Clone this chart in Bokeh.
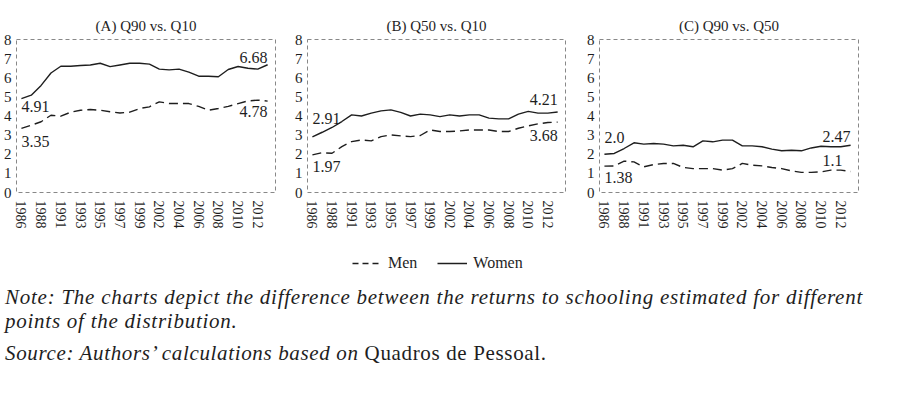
from bokeh.plotting import figure
from bokeh.models import FixedTicker, Label, Legend, LegendItem, Div
from bokeh.layouts import row, column
from bokeh.embed import file_html
from bokeh.resources import INLINE

years = [1986, 1987, 1988, 1989, 1991, 1992, 1993, 1994, 1995, 1996, 1997, 1998, 1999,
         2000, 2002, 2003, 2004, 2005, 2006, 2007, 2008, 2009, 2010, 2011, 2012, 2013]
tick_years = [1986, 1988, 1991, 1993, 1995, 1997, 1999, 2002, 2004, 2006, 2008, 2010, 2012]
y_ticks = [0, 1, 2, 3, 4, 5, 6, 7, 8]

titles = ["(A) Q90 vs. Q10", "(B) Q50 vs. Q10", "(C) Q90 vs. Q50"]

a_women = [4.91, 5.09, 5.6, 6.25, 6.6, 6.6, 6.64, 6.67, 6.76, 6.58, 6.67, 6.76, 6.76,
           6.71, 6.45, 6.41, 6.45, 6.29, 6.08, 6.08, 6.05, 6.43, 6.59, 6.5, 6.45, 6.68]
a_men = [3.35, 3.52, 3.7, 4.04, 3.99, 4.2, 4.3, 4.34, 4.3, 4.22, 4.16, 4.2, 4.39,
         4.48, 4.74, 4.65, 4.65, 4.65, 4.5, 4.3, 4.39, 4.5, 4.65, 4.79, 4.83, 4.78]
b_women = [2.91, 3.15, 3.4, 3.71, 4.06, 4.0, 4.15, 4.27, 4.32, 4.19, 4.0, 4.1, 4.06,
           3.97, 4.06, 4.0, 4.06, 4.06, 3.89, 3.85, 3.85, 4.1, 4.24, 4.15, 4.15, 4.21]
b_men = [1.97, 2.08, 2.05, 2.4, 2.66, 2.75, 2.7, 2.92, 3.01, 2.96, 2.92, 2.98, 3.27,
         3.19, 3.19, 3.22, 3.27, 3.27, 3.27, 3.19, 3.19, 3.36, 3.48, 3.59, 3.66, 3.68]
c_women = [2.0, 2.04, 2.3, 2.6, 2.53, 2.56, 2.53, 2.44, 2.47, 2.39, 2.7, 2.65, 2.74,
           2.74, 2.44, 2.44, 2.39, 2.27, 2.18, 2.21, 2.18, 2.33, 2.42, 2.39, 2.39, 2.47]
c_men = [1.38, 1.39, 1.64, 1.6, 1.34, 1.46, 1.52, 1.52, 1.31, 1.25, 1.25, 1.25, 1.17,
         1.25, 1.52, 1.43, 1.39, 1.31, 1.25, 1.13, 1.05, 1.05, 1.08, 1.17, 1.17, 1.1]

# end-point labels: women first, men first, women last, men last
a_labels = ["4.91", "3.35", "6.68", "4.78"]
b_labels = ["2.91", "1.97", "4.21", "3.68"]
c_labels = ["2.0", "1.38", "2.47", "1.1"]

series = [(a_women, a_men, a_labels), (b_women, b_men, b_labels), (c_women, c_men, c_labels)]
# (y_offset, x_offset) per label, in screen pixels
label_offsets = [
    [(-8, 0), (-13, 0), (7, 0), (-10, 0)],
    [(18, 0), (-12, 0), (12, 0), (-13, 0)],
    [(17, 0), (-11, 0), (9, 0), (11, -8)],
]

FONT = "Liberation Serif"
INK = "#1e1e1e"
MEN_DASH = "9 5"
xs = list(range(len(years)))
tick_pos = [years.index(y) for y in tick_years]

borders = [(15, 16), (15, 18), (15, 10)]
frame_w = [259, 258, 259]
figs = []
for i in range(3):
    women, men, labels = series[i]
    p = figure(frame_width=frame_w[i], frame_height=153, x_range=(-0.5, 25.8), y_range=(0, 8),
               output_backend="svg", toolbar_location=None,
               min_border_left=borders[i][0], min_border_right=borders[i][1],
               min_border_top=39, min_border_bottom=48)
    p.title.text = titles[i]
    p.title.align = "center"
    p.title.text_font = FONT
    p.title.text_font_size = "15px"
    p.title.text_font_style = "normal"
    p.title.text_color = INK
    p.title.standoff = 11
    p.xgrid.visible = False
    p.ygrid.visible = False
    p.outline_line_color = "#888888"
    p.outline_line_dash = "4 3"
    p.outline_line_width = 1
    p.background_fill_color = None
    p.border_fill_color = None
    for ax in (p.xaxis, p.yaxis):
        ax.axis_line_color = None
        ax.major_tick_line_color = None
        ax.minor_tick_line_color = None
        ax.major_tick_out = 0
        ax.major_tick_in = 0
        ax.major_label_text_font = FONT
        ax.major_label_text_color = INK
    p.yaxis.ticker = FixedTicker(ticks=y_ticks)
    p.yaxis.major_label_text_font_size = "15px"
    p.yaxis.major_label_standoff = 5
    p.xaxis.ticker = FixedTicker(ticks=tick_pos)
    p.xaxis.major_label_overrides = {pos: str(y) for pos, y in zip(tick_pos, tick_years)}
    p.xaxis.major_label_orientation = "vertical"
    p.xaxis.major_label_text_font_size = "14px"
    p.xaxis.major_label_standoff = 8

    p.line(xs, women, line_color=INK, line_width=1.4)
    p.line(xs, men, line_color=INK, line_width=1.4, line_dash=MEN_DASH)

    pts = [(xs[0], women[0], "left"), (xs[0], men[0], "left"),
           (xs[-1], women[-1], "right"), (xs[-1], men[-1], "right")]
    for (x, y, align), txt, (yo, xo) in zip(pts, labels, label_offsets[i]):
        p.add_layout(Label(x=x, y=y, text=txt, text_align=align, text_baseline="middle",
                           x_offset=xo, y_offset=yo, text_font=FONT, text_font_size="16px",
                           text_color=INK))
    figs.append(p)

# legend strip: proxy lines use series B data, kept outside the visible range
lg = figure(width=880, height=42, x_range=(0, 1), y_range=(-20, -19), output_backend="svg",
            toolbar_location=None, min_border=0)
lg.axis.visible = False
lg.xgrid.visible = False
lg.ygrid.visible = False
lg.outline_line_color = None
lg.background_fill_color = None
lg.border_fill_color = None
r_men = lg.line(xs, b_men, line_color=INK, line_width=1.5, line_dash="6 4")
r_women = lg.line(xs, b_women, line_color=INK, line_width=1.5)
legend = Legend(items=[LegendItem(label="Men", renderers=[r_men]),
                       LegendItem(label="Women", renderers=[r_women])],
                orientation="horizontal", location=(352, 9), padding=0, margin=0,
                spacing=20, glyph_width=30, label_standoff=6,
                label_text_font=FONT, label_text_font_size="16px", label_text_color=INK,
                background_fill_alpha=0, border_line_color=None)
lg.add_layout(legend, "center")

note = Div(text="Note: The charts depict the difference between the returns to schooling estimated for different<br>points of the distribution.",
           width=880, styles={"font-family": FONT, "font-style": "italic", "font-size": "21px",
                              "letter-spacing": "0.75px", "line-height": "24px", "color": INK,
                              "margin-top": "3px", "white-space": "nowrap"})
source = Div(text="<i>Source: Authors\u2019 calculations based on</i> Quadros de Pessoal.",
             width=880, styles={"font-family": FONT, "font-size": "21px",
                                "letter-spacing": "0.65px", "line-height": "24px",
                                "color": INK, "margin-top": "3px", "white-space": "nowrap"})

layout = column(row(*figs), lg, note, source)
open("out.html", "w").write(file_html(layout, INLINE))
